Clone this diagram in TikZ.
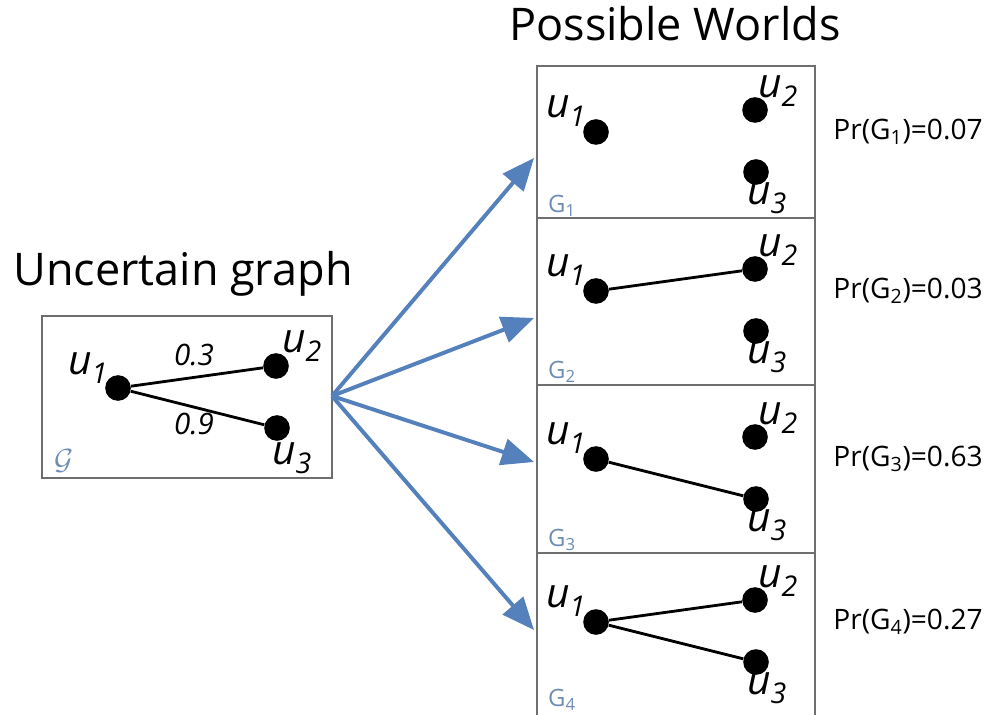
\documentclass[tikz,border=0pt]{standalone}
\usepackage{fontspec}
\setmainfont{Open Sans}
\usetikzlibrary{arrows.meta}
\definecolor{arrowblue}{RGB}{84,128,188}
\definecolor{labelblue}{RGB}{110,140,180}
\definecolor{framegray}{RGB}{110,110,110}
\newcommand{\ulab}[1]{{\fontsize{29}{31}\selectfont\itshape u\textsubscript{#1}}}
\tikzset{
  vertex/.style={circle, fill=black, inner sep=0pt, minimum size=0.64cm},
  edge/.style={line width=2pt},
  frame/.style={draw=framegray, line width=1.2pt},
  worldarrow/.style={draw=arrowblue, line width=2.8pt,
    -{Triangle[length=23pt,width=19pt]}}
}
\begin{document}
\begin{tikzpicture}[x=0.025cm, y=-0.025cm]
        \useasboundingbox (0,0) rectangle (993,715);
        % --- Titles ---
        \node (tleft) at (183,274) {\fontsize{32}{36}\selectfont Uncertain graph};
        \node (tright) at (675,24) {\fontsize{32}{36}\selectfont Possible Worlds};

        % --- Uncertain graph ---
        \draw[frame] (42,316) rectangle (332,478);
        \node[vertex] (g1) at (118,388) {};
        \node[vertex] (g2) at (276,366) {};
        \node[vertex] (g3) at (277,428) {};
        \draw[edge] (g1) -- (g2);
        \draw[edge] (g1) -- (g3);
        \node (lg1) at (88,368) {\ulab{1}};
        \node (lg2) at (302,346) {\ulab{2}};
        \node (lg3) at (292,458) {\ulab{3}};
        \node (p12) at (194,355) {\fontsize{21}{23}\selectfont\itshape 0.3};
        \node (p13) at (194,424) {\fontsize{21}{23}\selectfont\itshape 0.9};
        \node[text=labelblue] (gname) at (64,461) {\fontsize{22}{24}\selectfont$\mathcal{G}$};

        % --- Possible worlds ---
        \coordinate (src) at (332,396);
        \foreach \i/\top/\bot/\mid/\gy/\tip/\pr in {1/66/218/142/206/158/0.07,
                                                2/218/385/301/372/318/0.03,
                                                3/385/553/469/540/462/0.63,
                                                4/553/730/632/700/630/0.27} {
            \draw[frame] (537,\top) rectangle (815,\bot);
            \node[vertex] (w\i a) at (596,\mid-10) {};
            \node[vertex] (w\i b) at (755,\mid-32) {};
            \node[vertex] (w\i c) at (756,\mid+30) {};
            \node (l\i a) at (566,\mid-31) {\ulab{1}};
            \node (l\i b) at (778,\mid-51) {\ulab{2}};
            \node (l\i c) at (767,\mid+56) {\ulab{3}};
            \node[text=labelblue] (n\i) at (562,\gy) {\fontsize{17}{19}\selectfont G\textsubscript{\i}};
            \node (pr\i) at (908,\mid-10) {\fontsize{20}{22}\selectfont Pr(G\textsubscript{\i})=\pr};
            \coordinate (t\i) at (534,\tip);
            \draw[worldarrow] (src) -- (t\i);
        }
        \draw[edge] (w2a) -- (w2b);
        \draw[edge] (w3a) -- (w3c);
        \draw[edge] (w4a) -- (w4b);
        \draw[edge] (w4a) -- (w4c);
\end{tikzpicture}
\end{document}
